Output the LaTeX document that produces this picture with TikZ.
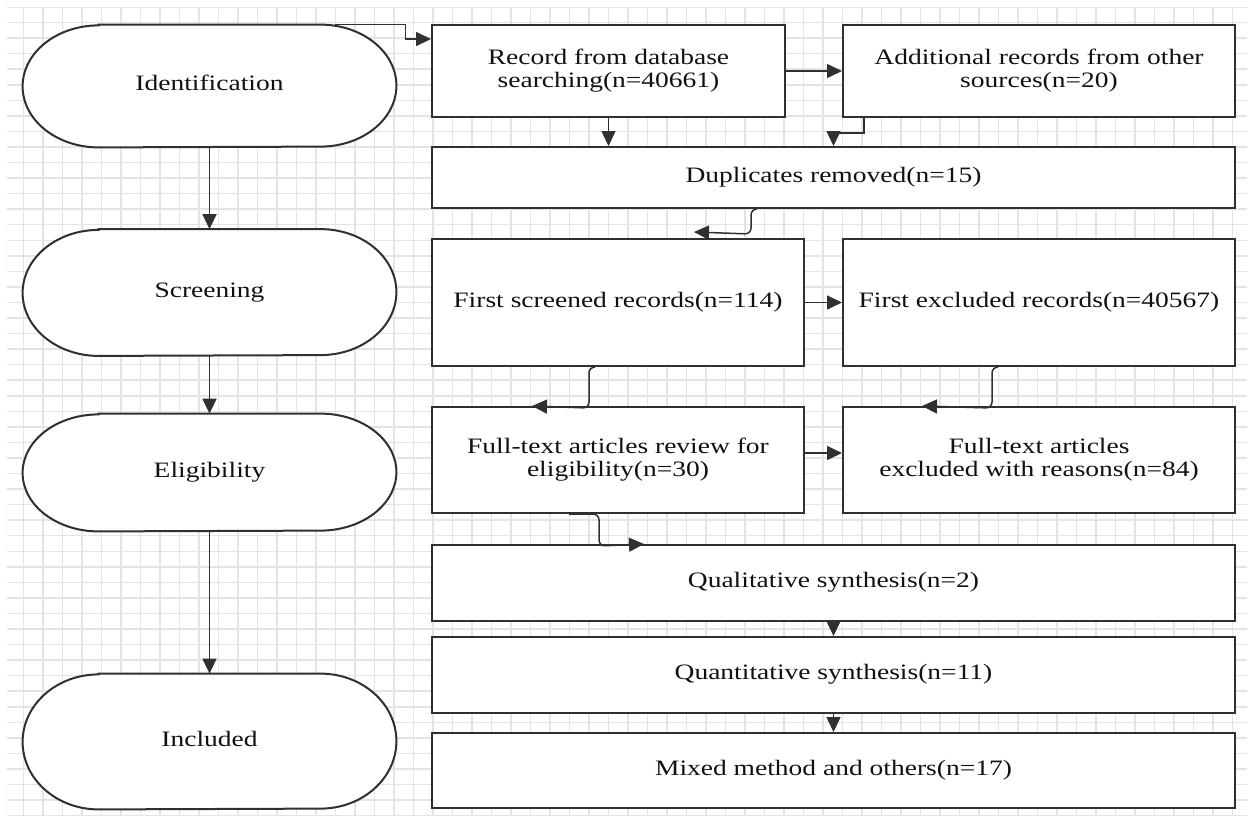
\documentclass[tikz,border=0pt]{standalone}
\usepackage{fontspec}
\setmainfont{Liberation Serif}
\usetikzlibrary{arrows.meta,calc}
\pgfdeclarelayer{gridlayer}
\pgfdeclarelayer{bglayer}
\pgfsetlayers{gridlayer,bglayer,main}
\definecolor{lc}{HTML}{303030}
\definecolor{tc}{HTML}{111111}
\definecolor{gc}{HTML}{E4E4E4}
\newcommand{\sx}[1]{\scalebox{1.25}[1]{\begin{tabular}{@{}c@{}}#1\end{tabular}}}
\begin{document}
\begin{tikzpicture}[x=0.5pt,y=-0.5pt,
  line/.style={draw=lc, line width=1pt},
  box/.style={draw=lc, line width=1pt, fill=white, inner sep=0pt, text=tc,
    font=\fontsize{11}{11.5}\selectfont},
  stad/.style={inner sep=0pt, minimum width=186.5pt, text=tc,
    font=\fontsize{11}{11.5}\selectfont},
  arr/.style={draw=lc, line width=0.75pt, -{Triangle[length=7.5pt,width=7pt]}},
  gridline/.style={draw=gc, line width=0.75pt}]

\begin{pgfonlayer}{gridlayer}
\path[use as bounding box, fill=white] (0,0) rectangle (1252,821);
\begin{scope}
\clip (7,7) rectangle (1247,815);
\foreach \k in {1,...,63} \draw[gridline] ({4+19.5*\k},7) -- ({4+19.5*\k},815);
\foreach \k in {0,...,52} \draw[gridline] (7,{7+15.55*\k}) -- (1247,{7+15.55*\k});
\end{scope}
\end{pgfonlayer}

% stage stadiums
\node[stad, minimum height=61pt]   (id)   at (209.5,86)    {\sx{Identification}};
\node[stad, minimum height=63pt]   (scrn) at (209.5,292.5) {\sx{Screening}};
\node[stad, minimum height=58.5pt] (elig) at (209.5,472.5) {\sx{Eligibility}};
\node[stad, minimum height=67.5pt] (inc)  at (209.5,741.5) {\sx{Included}};

\begin{pgfonlayer}{bglayer}
\foreach \n/\r in {id/30.5, scrn/31.5, elig/29.25, inc/33.75}
  \draw[line, fill=white] ([xshift=38pt]\n.north west) -- ([xshift=-38pt]\n.north east)
    arc[start angle=90, end angle=-90, x radius=38pt, y radius=\r pt]
    -- ([xshift=38pt]\n.south west)
    arc[start angle=270, end angle=90, x radius=38pt, y radius=\r pt] -- cycle;
\end{pgfonlayer}

% boxes
\node[box, minimum width=176.5pt, minimum height=46pt] (rec) at (608.5,71)
  {\sx{Record from database\\searching(n=40661)}};
\node[box, minimum width=196pt, minimum height=46pt] (add) at (1039,71)
  {\sx{Additional records from other\\sources(n=20)}};
\node[box, minimum width=401.5pt, minimum height=30.5pt] (dup) at (833.5,177.5)
  {\sx{Duplicates removed(n=15)}};
\node[box, minimum width=186pt, minimum height=63.5pt] (scr) at (618,302.5)
  {\sx{First screened records(n=114)}};
\node[box, minimum width=196pt, minimum height=63.5pt] (exc) at (1039,302.5)
  {\sx{First excluded records(n=40567)}};
\node[box, minimum width=186pt, minimum height=53pt] (ft) at (618,460)
  {\sx{Full-text articles review for\\eligibility(n=30)}};
\node[box, minimum width=196pt, minimum height=53pt] (fte) at (1039,460)
  {\sx{Full-text articles\\excluded with reasons(n=84)}};
\node[box, minimum width=401.5pt, minimum height=38pt] (qual) at (833.5,583)
  {\sx{Qualitative synthesis(n=2)}};
\node[box, minimum width=401.5pt, minimum height=38pt] (quant) at (833.5,675)
  {\sx{Quantitative synthesis(n=11)}};
\node[box, minimum width=401.5pt, minimum height=37.5pt] (mix) at (833.5,770.5)
  {\sx{Mixed method and others(n=17)}};

% stage arrows
\draw[arr] (id.south) -- (scrn.north);
\draw[arr] (scrn.south) -- (elig.north);
\draw[arr] (elig.south) -- (inc.north);

% flow connectors
\draw[arr] ([xshift=-30.5pt]id.north east) -- ++(35pt,0) |- ([yshift=-7.5pt]rec.north west);
\draw[arr] (rec.south) -- (rec.south |- dup.north);
\draw[arr] (rec.east) -- (add.west);
\draw[arr] ([xshift=11pt]add.south west) -- ++(0,-7.5pt) -| (dup.north);
\draw[arr, rounded corners=3pt] ([xshift=162.5pt]dup.south west) -- ++(-2.5pt,0)
  -- ++(0,-12.5pt) -- ([xshift=131.5pt,yshift=3pt]scr.north west);
\draw[arr] (scr.east) -- (exc.west);
\draw[arr, rounded corners=3pt] ([xshift=81.5pt]scr.south west) -- ++(-2.5pt,0)
  -- ++(0,-20.5pt) -- ([xshift=50.5pt]ft.north west);
\draw[arr, rounded corners=3pt] ([xshift=77.5pt]exc.south west) -- ++(-2.5pt,0)
  -- ++(0,-20.5pt) -- ([xshift=40pt]fte.north west);
\draw[arr] ([yshift=3.5pt]ft.east) -- ([yshift=3.5pt]fte.west);
\draw[arr, rounded corners=3pt] ([xshift=69pt]ft.south west) -- ++(15pt,0)
  -- ++(0,-16pt) -- ([xshift=106.5pt]qual.north west);
\draw[arr] (qual.south) -- (quant.north);
\draw[arr] (quant.south) -- (mix.north);
\end{tikzpicture}
\end{document}
